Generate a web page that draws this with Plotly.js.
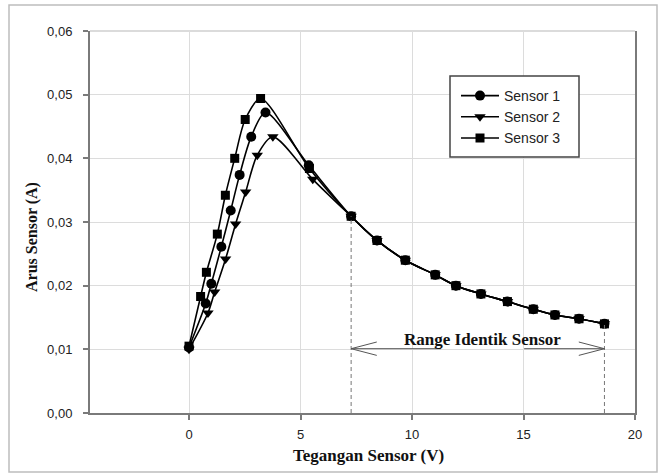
<!DOCTYPE html>
<html>
<head>
<meta charset="utf-8">
<script src="https://cdn.plot.ly/plotly-3.0.1.min.js"></script>
<style>
  html, body { margin: 0; padding: 0; background: #fff; }
  #chart { width: 658px; height: 474px; }
</style>
</head>
<body>
<div id="chart"></div>
<script>
// Sensor current (A) against sensor voltage (V)
const sensor1X = [0, 0.75, 1.00, 1.45, 1.87, 2.27, 2.79, 3.43, 5.37, 7.27, 8.43, 9.70, 11.04, 11.97, 13.09, 14.28, 15.44, 16.41, 17.49, 18.63];
const sensor1Y = [0.0103, 0.0172, 0.0203, 0.0261, 0.0318, 0.0374, 0.0434, 0.0472, 0.0389, 0.0309, 0.0271, 0.0240, 0.0217, 0.0200, 0.0187, 0.0175, 0.0163, 0.0154, 0.0148, 0.0140];

const sensor2X = [0, 0.85, 1.15, 1.64, 2.09, 2.54, 3.06, 3.76, 5.55, 7.27, 8.43, 9.70, 11.04, 11.97, 13.09, 14.28, 15.44, 16.41, 17.49, 18.63];
const sensor2Y = [0.0100, 0.0157, 0.0190, 0.0242, 0.0297, 0.0347, 0.0405, 0.0434, 0.0367, 0.0309, 0.0271, 0.0240, 0.0217, 0.0200, 0.0187, 0.0175, 0.0163, 0.0154, 0.0148, 0.0140];

const sensor3X = [0, 0.52, 0.78, 1.27, 1.63, 2.05, 2.52, 3.21, 5.40, 7.27, 8.43, 9.70, 11.04, 11.97, 13.09, 14.28, 15.44, 16.41, 17.49, 18.63];
const sensor3Y = [0.0105, 0.0183, 0.0221, 0.0281, 0.0342, 0.0400, 0.0461, 0.0494, 0.0384, 0.0309, 0.0271, 0.0240, 0.0217, 0.0200, 0.0187, 0.0175, 0.0163, 0.0154, 0.0148, 0.0140];

const seriesNames = ['Sensor 1', 'Sensor 2', 'Sensor 3'];
const seriesSymbols = ['circle', 'triangle-down', 'square'];

// index where the three curves become identical
const identicalStart = 9;

const xTickVals = [0, 5, 10, 15, 20];
const yTickVals = [0, 0.01, 0.02, 0.03, 0.04, 0.05, 0.06];

const xs = [sensor1X, sensor2X, sensor3X];
const ys = [sensor1Y, sensor2Y, sensor3Y];
const sizes = [10, 10, 9];

const traces = seriesNames.map((name, i) => ({
  type: 'scatter',
  mode: 'lines+markers',
  name: name,
  x: xs[i],
  y: ys[i],
  line: { color: '#000', width: 1.6, shape: 'spline', smoothing: 0.8 },
  marker: { symbol: seriesSymbols[i], size: sizes[i], color: '#000', line: { width: 0 } },
  hoverinfo: 'skip'
}));

// pixel helpers for paper-positioned decorations
const W = 658, H = 474, mL = 90, mR = 23, mT = 31, mB = 61;
const pw = W - mL - mR, ph = H - mT - mB;
const px = v => (v - mL) / pw;
const py = v => (H - mB - v) / ph;

const rangeX0 = sensor1X[identicalStart];
const rangeY0 = sensor1Y[identicalStart];
const rangeX1 = sensor1X[sensor1X.length - 1];
const rangeY1 = sensor1Y[sensor1Y.length - 1];
const arrowY = 0.0101;
const headLen = 1.15, headHalf = 0.00105;
const gapL = 11.30, gapR = 15.03;

const arrowColor = '#555';
const shapes = [
  // outer frame
  { type: 'rect', xref: 'paper', yref: 'paper', x0: px(9), x1: px(657), y0: py(472), y1: py(5),
    line: { color: '#bdbdbd', width: 1.5 }, layer: 'below' },
  // top edge of plot area
  { type: 'line', xref: 'paper', yref: 'paper', x0: 0, x1: 1, y0: 1, y1: 1,
    line: { color: '#cfcfcf', width: 1.5 }, layer: 'below' },
  // dashed markers for the identical range
  { type: 'line', xref: 'x', yref: 'y', x0: rangeX0, x1: rangeX0, y0: 0, y1: rangeY0,
    line: { color: '#777', width: 1, dash: '4px,3px' } },
  { type: 'line', xref: 'x', yref: 'y', x0: rangeX1, x1: rangeX1, y0: 0, y1: rangeY1,
    line: { color: '#777', width: 1, dash: '4px,3px' } },
  // double arrow split around the label
  { type: 'line', xref: 'x', yref: 'y', x0: rangeX0, x1: gapL, y0: arrowY, y1: arrowY,
    line: { color: arrowColor, width: 1 } },
  { type: 'line', xref: 'x', yref: 'y', x0: gapR, x1: rangeX1, y0: arrowY, y1: arrowY,
    line: { color: arrowColor, width: 1 } },
  { type: 'path', xref: 'x', yref: 'y',
    path: `M${rangeX0 + headLen},${arrowY + headHalf} L${rangeX0},${arrowY} L${rangeX0 + headLen},${arrowY - headHalf}`,
    line: { color: arrowColor, width: 1 } },
  { type: 'path', xref: 'x', yref: 'y',
    path: `M${rangeX1 - headLen},${arrowY + headHalf} L${rangeX1},${arrowY} L${rangeX1 - headLen},${arrowY - headHalf}`,
    line: { color: arrowColor, width: 1 } },
  // legend box
  { type: 'rect', xref: 'paper', yref: 'paper', x0: px(450), x1: px(579), y0: py(157), y1: py(76),
    line: { color: '#444', width: 1.5 }, fillcolor: '#fff', layer: 'above' }
];

const serif = 'Liberation Serif, Times New Roman, serif';
const sans = 'Liberation Sans, Arial, sans-serif';

const annotations = [
  { xref: 'paper', yref: 'paper', x: px(368), y: py(455), text: '<b>Tegangan Sensor (V)</b>',
    showarrow: false, xanchor: 'center', yanchor: 'middle', font: { family: serif, size: 17, color: '#111' } },
  { xref: 'paper', yref: 'paper', x: px(32), y: py(237), text: '<b>Arus Sensor (A)</b>', textangle: -90,
    showarrow: false, xanchor: 'center', yanchor: 'middle', font: { family: serif, size: 16, color: '#111' } },
  { xref: 'x', yref: 'y', x: (gapL + gapR) / 2, y: 0.0116, text: '<b>Range Identik Sensor</b>',
    showarrow: false, xanchor: 'center', yanchor: 'middle', font: { family: serif, size: 17, color: '#111' } }
];

const layout = {
  width: W, height: H,
  margin: { l: mL, r: mR, t: mT, b: mB, pad: 0 },
  paper_bgcolor: '#fff', plot_bgcolor: '#fff',
  separators: ',.',
  showlegend: true,
  legend: {
    x: px(456), y: py(80), xanchor: 'left', yanchor: 'top',
    bgcolor: 'rgba(0,0,0,0)', borderwidth: 0, itemwidth: 38,
    font: { family: sans, size: 14, color: '#222' }
  },
  xaxis: {
    range: [-4.44, 20], tickmode: 'array', tickvals: xTickVals,
    showgrid: true, gridcolor: '#dcdcdc', gridwidth: 1, zeroline: false,
    showline: true, linecolor: '#7a7a7a', linewidth: 2,
    ticks: 'outside', ticklen: 5, tickwidth: 2, tickcolor: '#7a7a7a',
    ticklabelstandoff: 3,
    tickfont: { family: sans, size: 13, color: '#222' }
  },
  yaxis: {
    range: [0, 0.06], tickmode: 'array', tickvals: yTickVals, tickformat: '.2f',
    showgrid: true, gridcolor: '#dcdcdc', gridwidth: 1, zeroline: false,
    showline: true, mirror: true, linecolor: '#7a7a7a', linewidth: 2,
    ticks: 'outside', ticklen: 5, tickwidth: 2, tickcolor: '#7a7a7a',
    ticklabelstandoff: 8,
    tickfont: { family: sans, size: 13, color: '#222' }
  },
  shapes: shapes,
  annotations: annotations
};

Plotly.newPlot('chart', traces, layout, { staticPlot: true, displayModeBar: false });
</script>
</body>
</html>
